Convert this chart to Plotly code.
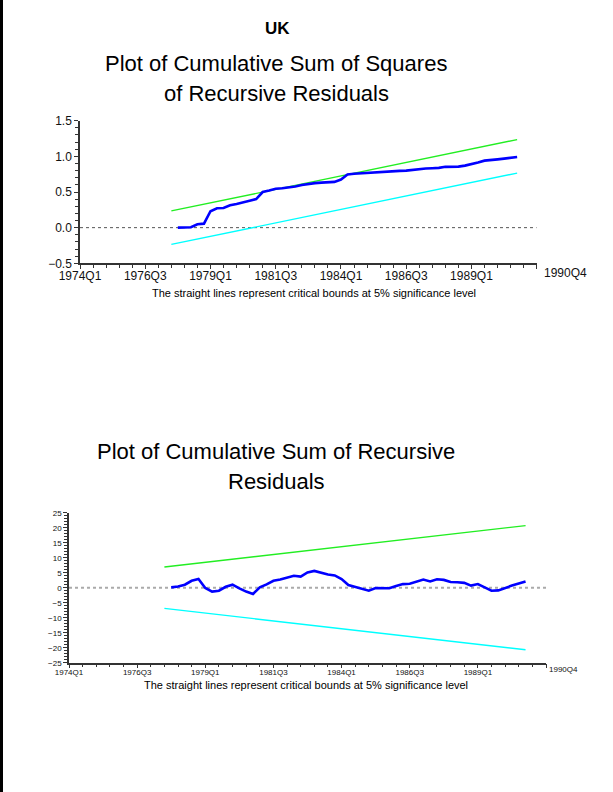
import plotly.graph_objects as go

W, H = 613, 792

# ---------------- data ----------------
quarters = [f"{1974 + i // 4}Q{i % 4 + 1}" for i in range(71)]  # 1974Q1 .. 1991Q3
tick_labels = ["1974Q1", "1976Q3", "1979Q1", "1981Q3", "1984Q1", "1986Q3", "1989Q1", ""]
last_label = "1990Q4"

bound_quarters = ["1977Q3", "1990Q4"]
cusumsq_upper = [0.235, 1.235]
cusumsq_lower = [-0.235, 0.765]
cusum_upper = [6.9, 20.7]
cusum_lower = [-6.9, -20.7]

resid_start, resid_end = "1977Q4", "1990Q4"
cusumsq = [0.0, 0.002, 0.005, 0.048, 0.056, 0.23, 0.272, 0.276, 0.313, 0.332,
           0.35, 0.378, 0.40, 0.50, 0.52, 0.545, 0.553, 0.561, 0.578, 0.598,
           0.615, 0.625, 0.631, 0.635, 0.642, 0.675, 0.745, 0.755, 0.762, 0.77,
           0.776, 0.78, 0.784, 0.79, 0.796, 0.80, 0.812, 0.82, 0.83, 0.834,
           0.838, 0.853, 0.855, 0.856, 0.87, 0.888, 0.915, 0.94, 0.945, 0.958,
           0.968, 0.978, 0.99]
cusum = [0.1, 0.4, 1.0, 2.3, 2.9, -0.1, -1.3, -1.0, 0.3, 1.0,
         -0.2, -1.3, -2.1, 0.1, 1.1, 2.3, 2.7, 3.4, 4.0, 3.7,
         5.1, 5.6, 5.0, 4.4, 4.1, 2.9, 0.9, 0.3, -0.4, -1.0,
         -0.1, -0.2, -0.2, 0.6, 1.2, 1.3, 2.0, 2.7, 2.1, 2.8,
         2.6, 1.9, 1.8, 1.6, 0.7, 1.2, 0.1, -1.0, -0.9, 0.0,
         0.7, 1.4, 2.1]

# ---------------- helpers ----------------
qidx = {q: i for i, q in enumerate(quarters)}
bx = [qidx[q] for q in bound_quarters]
rx = list(range(qidx[resid_start], qidx[resid_end] + 1))
tickvals = list(range(0, 71, 10))
xmax = len(quarters) - 1


def fx(px):
    return px / W


def fy(py):
    return 1 - py / H


FONT = "Liberation Sans, Arial, sans-serif"
AXC = "#333333"

fig = go.Figure()

# top panel traces
fig.add_trace(go.Scatter(x=[0, xmax], y=[0, 0], mode="lines", xaxis="x", yaxis="y",
                         line=dict(color="#555555", width=1, dash="dot"), hoverinfo="skip"))
fig.add_trace(go.Scatter(x=bx, y=cusumsq_upper, mode="lines", xaxis="x", yaxis="y",
                         line=dict(color="#22ee22", width=1.4)))
fig.add_trace(go.Scatter(x=bx, y=cusumsq_lower, mode="lines", xaxis="x", yaxis="y",
                         line=dict(color="#00ffff", width=1.4)))
fig.add_trace(go.Scatter(x=rx, y=cusumsq, mode="lines", xaxis="x", yaxis="y",
                         line=dict(color="#0000ff", width=2.6)))

# bottom panel traces
fig.add_trace(go.Scatter(x=[0, xmax], y=[0, 0], mode="lines", xaxis="x2", yaxis="y2",
                         line=dict(color="#aaaaaa", width=2, dash="dot"), hoverinfo="skip"))
fig.add_trace(go.Scatter(x=bx, y=cusum_upper, mode="lines", xaxis="x2", yaxis="y2",
                         line=dict(color="#22ee22", width=1.4)))
fig.add_trace(go.Scatter(x=bx, y=cusum_lower, mode="lines", xaxis="x2", yaxis="y2",
                         line=dict(color="#00ffff", width=1.4)))
fig.add_trace(go.Scatter(x=rx, y=cusum, mode="lines", xaxis="x2", yaxis="y2",
                         line=dict(color="#0000ff", width=2.6)))

top_xd = [fx(80), fx(536.7)]
top_yd = [fy(263.3), fy(120.7)]
bot_xd = [fx(69), fx(546)]
bot_yd = [fy(662.7), fy(512.7)]


def xaxis(domain, anchor, fs, overlay=None, standoff=0):
    d = dict(domain=domain, anchor=anchor, range=[0, xmax], showgrid=False, zeroline=False,
             automargin=False,
             tickmode="array", tickvals=tickvals, ticktext=tick_labels,
             tickfont=dict(family=FONT, size=fs, color="#111111"),
             ticklen=4, tickwidth=1.2, tickcolor=AXC,
             minor=dict(tickmode="linear", tick0=0, dtick=2, ticklen=3, tickcolor=AXC,
                        tickwidth=1.2, showgrid=False))
    if overlay:
        d.update(overlaying=overlay, ticks="inside", showticklabels=False, showline=False)
        d["minor"]["ticks"] = "inside"
    else:
        d.update(ticks="outside", showline=True, linecolor=AXC, linewidth=1.5,
                 ticklabelstandoff=standoff)
        d["minor"]["ticks"] = "outside"
    return d


def yaxis(domain, anchor, rng, dt, mdt, fs, fmt, overlay=None):
    d = dict(domain=domain, anchor=anchor, range=rng, showgrid=False, zeroline=False,
             automargin=False,
             tickmode="linear", tick0=rng[0], dtick=dt, tickformat=fmt,
             tickfont=dict(family=FONT, size=fs, color="#111111"),
             ticklen=4, tickwidth=1.2, tickcolor=AXC,
             minor=dict(tickmode="linear", tick0=rng[0], dtick=mdt, ticklen=3, tickcolor=AXC,
                        tickwidth=1.2, showgrid=False))
    if overlay:
        d.update(overlaying=overlay, ticks="inside", showticklabels=False, showline=False)
        d["minor"]["ticks"] = "inside"
    else:
        d.update(ticks="outside", showline=True, linecolor=AXC, linewidth=1.5)
        d["minor"]["ticks"] = "outside"
    return d


layout = dict(
    width=W, height=H, margin=dict(l=0, r=0, t=0, b=0, pad=0, autoexpand=False),
    paper_bgcolor="white", plot_bgcolor="rgba(0,0,0,0)", showlegend=False,
    xaxis=xaxis(top_xd, "y", 12, standoff=-3),
    yaxis=yaxis(top_yd, "x", [-0.5, 1.5], 0.5, 0.1, 12, ".1f"),
    xaxis2=xaxis(bot_xd, "y2", 8, standoff=-3),
    yaxis2=yaxis(bot_yd, "x2", [-25, 25], 5, 1, 8, "d"),
    xaxis3=xaxis(top_xd, "y", 12, overlay="x"),
    yaxis3=yaxis(top_yd, "x", [-0.5, 1.5], 0.5, 0.1, 12, ".1f", overlay="y"),
    xaxis4=xaxis(bot_xd, "y2", 8, overlay="x2"),
    yaxis4=yaxis(bot_yd, "x2", [-25, 25], 5, 1, 8, "d", overlay="y2"),
)
fig.update_layout(**layout)


def text(x, y, s, size, bold=False):
    fig.add_annotation(xref="paper", yref="paper", x=fx(x), y=fy(y), text=(f"<b>{s}</b>" if bold else s),
                       showarrow=False, xanchor="center", yanchor="middle",
                       font=dict(family=FONT, size=size, color="black"))


text(277, 28, "UK", 17, bold=True)
text(276, 63, "Plot of Cumulative Sum of Squares", 22)
text(276, 93, "of Recursive Residuals", 22)
text(314, 293, "The straight lines represent critical bounds at 5% significance level", 11)
text(276, 451, "Plot of Cumulative Sum of Recursive", 22)
text(276, 481, "Residuals", 22)
text(306, 685, "The straight lines represent critical bounds at 5% significance level", 11)

# last observation label beyond the axis end
fig.add_annotation(xref="x domain", yref="y domain", x=(565 - 80) / (536.7 - 80), y=0, yshift=-10,
                   text=last_label, showarrow=False, xanchor="center", yanchor="middle",
                   font=dict(family=FONT, size=12, color="#111111"))
fig.add_annotation(xref="x2 domain", yref="y2 domain", x=(563 - 69) / (546 - 69), y=0, yshift=-7,
                   text=last_label, showarrow=False, xanchor="center", yanchor="middle",
                   font=dict(family=FONT, size=8, color="#111111"))

# left frame edge
fig.add_shape(type="rect", xref="paper", yref="paper", x0=0, x1=fx(3), y0=0, y1=1,
              fillcolor="black", line=dict(width=0), layer="above")

fig.write_html("out.html", config={"displayModeBar": False},
               post_script="document.body.style.margin='0px';")
